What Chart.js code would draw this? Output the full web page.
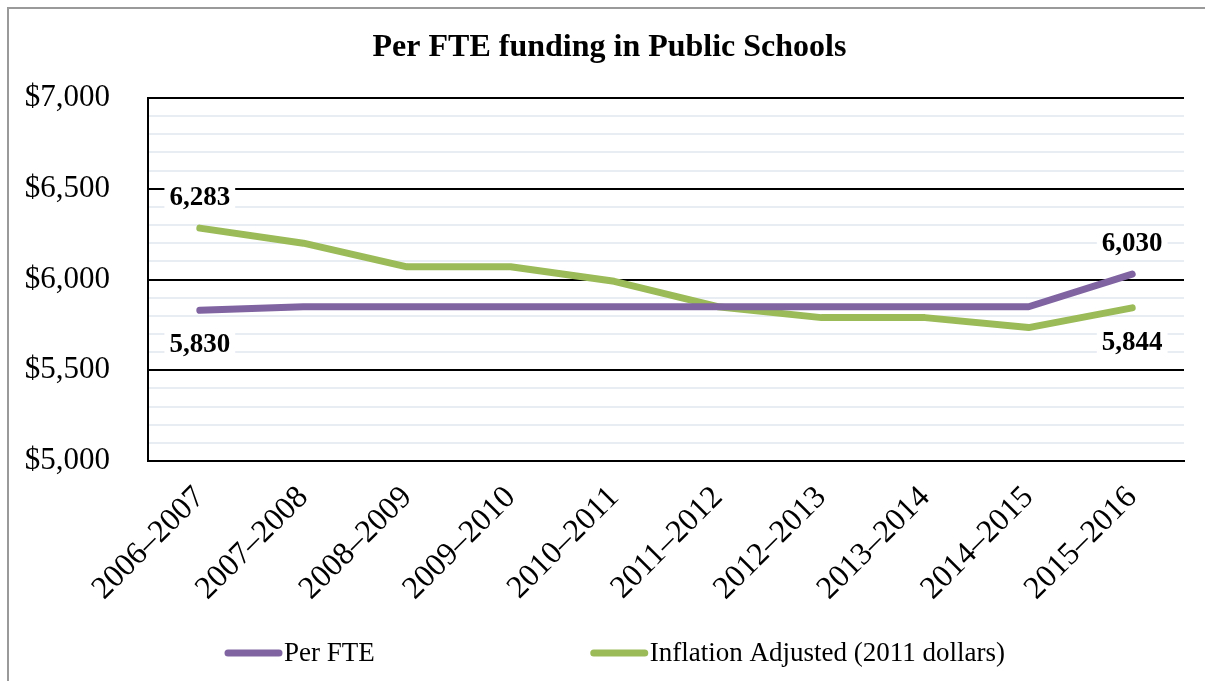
<!DOCTYPE html>
<html>
<head>
<meta charset="utf-8">
<script src="https://cdn.jsdelivr.net/npm/chart.js@4.4.1/dist/chart.umd.min.js"></script>
<style>
  html, body { margin: 0; padding: 0; background: #fff; overflow: hidden; }
  #frame { position: absolute; left: 7px; top: 7px; width: 1300px; height: 800px; border-left: 2px solid #9a9a9a; border-top: 2px solid #9a9a9a; }
  #wrap { position: absolute; left: 0; top: 0; width: 1205px; height: 681px; }
</style>
</head>
<body>
<div id="frame"></div>
<div id="wrap"><canvas id="fteChart"></canvas></div>
<script>
const chartTitle = 'Per FTE funding in Public Schools';
const categories = ['2006–2007', '2007–2008', '2008–2009', '2009–2010', '2010–2011',
  '2011–2012', '2012–2013', '2013–2014', '2014–2015', '2015–2016'];
const perFte = [5830, 5850, 5850, 5850, 5850, 5850, 5850, 5850, 5850, 6030];
const inflationAdjusted = [6283, 6200, 6070, 6070, 5990, 5850, 5790, 5790, 5735, 5844];
const yTickLabels = ['$5,000', '$5,500', '$6,000', '$6,500', '$7,000'];
// which points get a value label, and on which side of the line
const perFteLabels = [{ idx: 0, side: 'below' }, { idx: 9, side: 'above' }];
const inflationLabels = [{ idx: 0, side: 'above' }, { idx: 9, side: 'below' }];

const serif = '"Liberation Serif", "Times New Roman", serif';

// title drawn by hand: the built-in one centres on the padded box, the original sits a bit right of that
const chartHeading = {
  id: 'chartHeading',
  afterDraw(chart) {
    const ctx = chart.ctx;
    ctx.save();
    ctx.font = 'bold 32px ' + serif;
    ctx.fillStyle = '#000';
    ctx.textAlign = 'center';
    ctx.textBaseline = 'middle';
    ctx.fillText(chartTitle, chart.width / 2 + 7, 48);
    ctx.restore();
  }
};

// value labels with a white box, like the spreadsheet chart
const valueLabels = {
  id: 'valueLabels',
  afterDatasetsDraw(chart) {
    const ctx = chart.ctx;
    ctx.save();
    ctx.font = 'bold 27px ' + serif;
    ctx.textAlign = 'center';
    ctx.textBaseline = 'middle';
    chart.data.datasets.forEach((ds, di) => {
      const meta = chart.getDatasetMeta(di);
      (ds.pointLabels || []).forEach(lbl => {
        const pt = meta.data[lbl.idx];
        const text = ds.data[lbl.idx].toLocaleString('en-US');
        const y = lbl.side === 'above' ? pt.y - 31 : pt.y + 34;
        const w = ctx.measureText(text).width + 10;
        ctx.fillStyle = '#fff';
        ctx.fillRect(pt.x - w / 2, y - 15, w, 30);
        ctx.fillStyle = '#000';
        ctx.fillText(text, pt.x, y + 1);
      });
    });
    ctx.restore();
  }
};

// legend drawn by hand so the wide gap between entries can be kept
const lineLegend = {
  id: 'lineLegend',
  afterDraw(chart) {
    const ctx = chart.ctx;
    ctx.save();
    ctx.font = '27px ' + serif;
    ctx.textBaseline = 'middle';
    let x = 225;
    const y = 653;
    chart.data.datasets.forEach(ds => {
      ctx.strokeStyle = ds.borderColor;
      ctx.lineWidth = 7;
      ctx.lineCap = 'round';
      ctx.beginPath();
      ctx.moveTo(x + 3, y);
      ctx.lineTo(x + 54, y);
      ctx.stroke();
      ctx.fillStyle = '#000';
      ctx.fillText(ds.label, x + 59, y + 1);
      x += 59 + ctx.measureText(ds.label).width + 216;
    });
    ctx.restore();
  }
};

Chart.defaults.font.family = serif;
Chart.defaults.color = '#000';

new Chart(document.getElementById('fteChart'), {
  type: 'line',
  data: {
    labels: categories,
    datasets: [
      {
        label: 'Per FTE',
        data: perFte,
        borderColor: '#8064a2',
        backgroundColor: '#8064a2',
        borderWidth: 7,
        borderCapStyle: 'round',
        borderJoinStyle: 'round',
        pointRadius: 0,
        tension: 0,
        pointLabels: perFteLabels
      },
      {
        label: 'Inflation Adjusted (2011 dollars)',
        data: inflationAdjusted,
        borderColor: '#9bbb59',
        backgroundColor: '#9bbb59',
        borderWidth: 7,
        borderCapStyle: 'round',
        borderJoinStyle: 'round',
        pointRadius: 0,
        tension: 0,
        pointLabels: inflationLabels
      }
    ]
  },
  options: {
    responsive: true,
    maintainAspectRatio: false,
    animation: false,
    layout: { padding: { left: 0, right: 21, top: 98, bottom: 62 } },
    plugins: {
      legend: { display: false },
      tooltip: { enabled: false },
      title: { display: false }
    },
    scales: {
      x: {
        offset: true,
        grid: { display: false, drawTicks: false },
        border: { display: true, color: '#000', width: 2 },
        ticks: {
          font: { size: 32, family: serif },
          maxRotation: 45,
          minRotation: 45,
          padding: 18,
          autoSkip: false
        },
        afterFit(scale) { scale.height = 158; }
      },
      y: {
        min: 5000,
        max: 7000,
        grid: {
          drawTicks: false,
          lineWidth: 2,
          color: c => (c.tick.value % 500 === 0 ? '#000' : '#e8edf4')
        },
        border: { display: true, color: '#000', width: 2 },
        ticks: {
          stepSize: 100,
          autoSkip: false,
          font: { size: 31, family: serif },
          padding: 38,
          callback: v => (v % 500 === 0 ? yTickLabels[(v - 5000) / 500] : '')
        },
        afterFit(scale) { scale.width = 148; }
      }
    }
  },
  plugins: [chartHeading, valueLabels, lineLegend]
});
</script>
</body>
</html>
